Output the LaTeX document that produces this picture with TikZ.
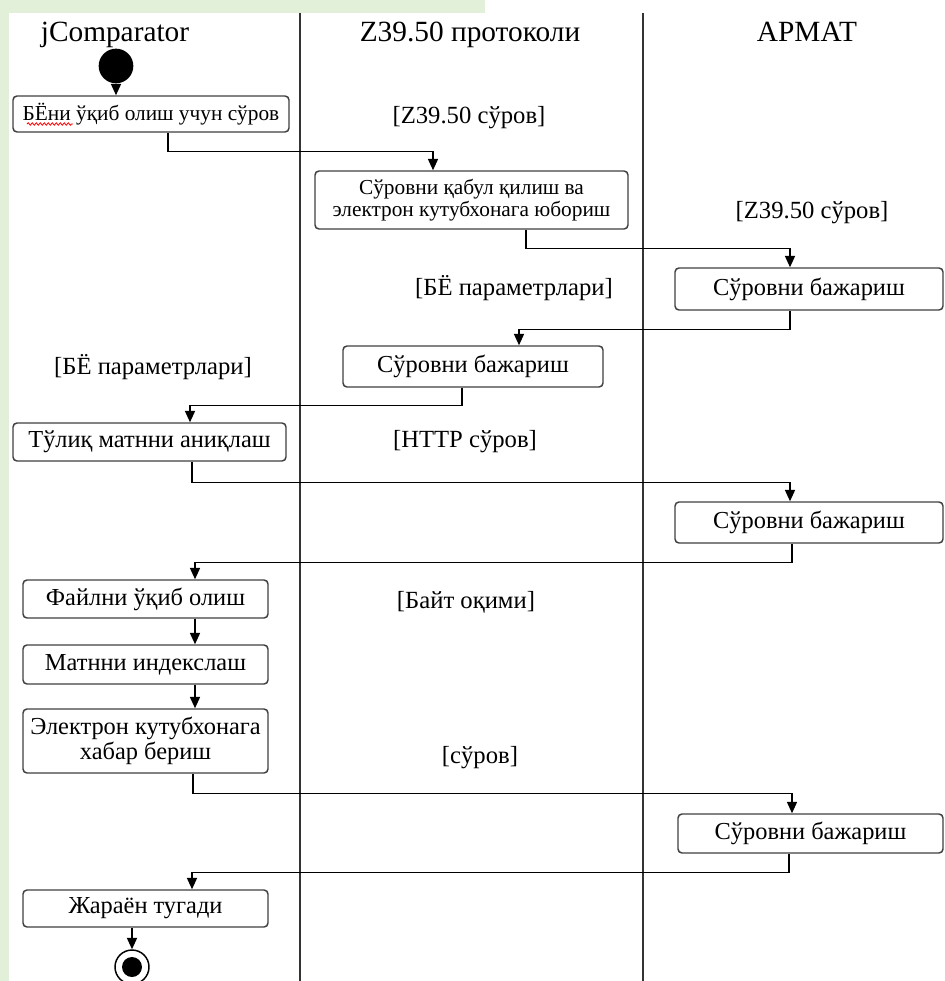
\documentclass[tikz,border=0pt]{standalone}
\usepackage{fontspec}
\setmainfont{Liberation Serif}
\usetikzlibrary{arrows.meta,decorations.pathmorphing}
\definecolor{pagegreen}{RGB}{226,239,217}

\begin{document}
\begin{tikzpicture}[x=.75pt,y=-.75pt,
      act/.style={draw=black!75,line width=1.1pt,rounded corners=3pt,fill=white,
        inner sep=0pt,align=center,font=\fontsize{18.3}{19}\selectfont},
      smallact/.style={act,font=\fontsize{16}{16.5}\selectfont},
      guard/.style={inner sep=0pt,font=\fontsize{18.5}{22}\selectfont},
      lanehead/.style={inner sep=0pt,anchor=base,font=\fontsize{22}{26}\selectfont},
      flow/.style={line width=1.1pt,-{Triangle[width=7.5pt,length=8.5pt]}}]
    \useasboundingbox (0,0) rectangle (945,981);
    \clip (0,0) rectangle (945,981);
    \fill[pagegreen] (0,0) rectangle (485,12.7);
    \fill[pagegreen] (0,0) rectangle (9,981);

    % lanes
    \draw[line width=1.1pt,black!80] (300,13) -- (300,981);
    \draw[line width=1.1pt,black!80] (643,13) -- (643,981);
    \node[lanehead] (hcmp) at (115,42) {jComparator};
    \node[lanehead] (hz) at (470,42) {Z39.50 протоколи};
    \node[lanehead] (harm) at (807,42) {АРМАТ};

    % activities
    \node[circle,fill=black,inner sep=0pt,minimum size=26pt] (start) at (116,66) {};
    \node[smallact,minimum width=207pt,minimum height=27pt] (ask) at (151,114)
      {БЁни ўқиб олиш учун сўров};
    \node[smallact,minimum width=234.75pt,minimum height=43.5pt] (relay) at (471.5,200)
      {Сўровни қабул қилиш ва\\электрон кутубхонага юбориш};
    \node[act,minimum width=201pt,minimum height=31.5pt] (exec1) at (809,289) {Сўровни бажариш};
    \node[act,minimum width=195pt,minimum height=30.75pt] (exec2) at (473,366.5) {Сўровни бажариш};
    \node[act,minimum width=204.75pt,minimum height=28.5pt] (fulltext) at (149.5,442) {Тўлиқ матнни аниқлаш};
    \node[act,minimum width=201pt,minimum height=30.75pt] (exec3) at (809,522.5) {Сўровни бажариш};
    \node[act,minimum width=183.75pt,minimum height=28.5pt] (readfile) at (145.5,599) {Файлни ўқиб олиш};
    \node[act,minimum width=183.75pt,minimum height=29.25pt] (index) at (145.5,664.5) {Матнни индекслаш};
    \node[act,minimum width=183.75pt,minimum height=48pt] (notify) at (145.5,741)
      {Электрон кутубхонага\\хабар бериш};
    \node[act,minimum width=198.75pt,minimum height=29.25pt] (exec4) at (810.5,833.5) {Сўровни бажариш};
    \node[act,minimum width=183.75pt,minimum height=27.75pt] (finish) at (145.5,908.5) {Жараён тугади};
    \node[circle,draw,line width=1.1pt,fill=white,inner sep=0pt,minimum size=25.5pt] (stop) at (132,967) {};
    \fill (stop.center) circle (7.5pt);
    \draw[red,line width=.6pt,decorate,decoration={snake,amplitude=.9pt,segment length=3pt}]
      (27,124) -- (73,124);

    % guards
    \node[guard] (g1) at (469,118) {[Z39.50 сўров]};
    \node[guard] (g2) at (812,213) {[Z39.50 сўров]};
    \node[guard] (g3) at (514,288) {[БЁ параметрлари]};
    \node[guard] (g4) at (153,367) {[БЁ параметрлари]};
    \node[guard] (g5) at (465,442) {[HTTP сўров]};
    \node[guard] (g6) at (466,602) {[Байт оқими]};
    \node[guard] (g7) at (480,758) {[сўров]};

    % flows
    \draw[flow] (start) -- (ask.north -| start);
    \draw[flow] (ask.south -| 168,0) -- ++(0,19) -| (relay.north -| 433,0);
    \draw[flow] (relay.south -| 526,0) -- ++(0,19) -| (exec1.north -| 790,0);
    \draw[flow] (exec1.south -| 790,0) -- ++(0,19) -| (exec2.north -| 519,0);
    \draw[flow] (exec2.south -| 462,0) -- ++(0,18) -| (fulltext.north -| 190,0);
    \draw[flow] (fulltext.south -| 192,0) -- ++(0,21) -| (exec3.north -| 790,0);
    \draw[flow] (exec3.south -| 792,0) -- ++(0,19) -| (readfile.north -| 195,0);
    \draw[flow] (readfile.south -| 195,0) -- (index.north -| 195,0);
    \draw[flow] (index.south -| 195,0) -- (notify.north -| 195,0);
    \draw[flow] (notify.south -| 193,0) -- ++(0,20) -| (exec4.north -| 792,0);
    \draw[flow] (exec4.south -| 789,0) -- ++(0,19) -| (finish.north -| 192,0);
    \draw[flow] (finish.south -| stop) -- (stop);
  \end{tikzpicture}
\end{document}
